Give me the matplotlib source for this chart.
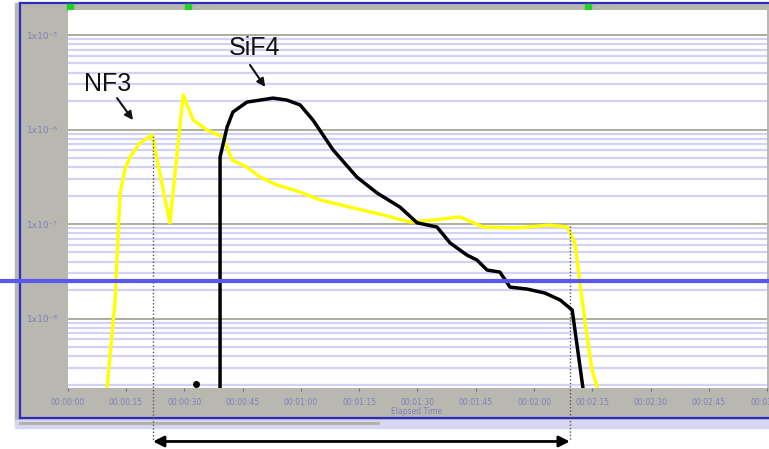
import numpy as np
import matplotlib.pyplot as plt
from matplotlib.patches import Rectangle
from matplotlib.lines import Line2D
from matplotlib.ticker import LogLocator, NullFormatter

# screen size of the original capture
W, H = 769, 449

def fx(x):
    return x / W

def fy(y):
    return 1 - y / H

# NF3 trace (yellow), elapsed seconds / partial pressure
nf3_t = [10.1, 12.2, 12.9, 13.5, 14.7, 16.0, 18.6, 21.7, 26.3, 29.7, 32.3, 35.8,
         40.0, 42.3, 46.1, 49.5, 53.9, 59.8, 64.9, 72.6, 81.1, 88.1, 94.0, 100.9,
         106.9, 115.6, 124.1, 128.5, 130.5, 131.8, 133.4, 134.9, 136.4]
nf3_p = [1.8e-9, 1.57e-8, 6.8e-8, 2.13e-7, 3.73e-7, 5.1e-7, 7.2e-7, 8.75e-7, 1.03e-7,
         2.32e-6, 1.26e-6, 9.9e-7, 8.3e-7, 4.75e-7, 4.0e-7, 3.14e-7, 2.59e-7, 2.18e-7,
         1.8e-7, 1.51e-7, 1.25e-7, 1.05e-7, 1.1e-7, 1.19e-7, 9.3e-8, 9.1e-8, 9.75e-8,
         9.3e-8, 6.3e-8, 2.38e-8, 7.5e-9, 2.85e-9, 1.8e-9]

# SiF4 trace (black)
sif4_t = [39.2, 39.2, 41.0, 42.5, 46.1, 52.8, 56.4, 59.8, 63.1, 68.3, 74.4, 79.6,
          85.5, 89.9, 95.0, 98.4, 102.7, 105.3, 107.9, 111.2, 113.8, 118.2, 122.8,
          126.7, 129.8, 132.6]
sif4_p = [1.8e-9, 5.1e-7, 1.06e-6, 1.53e-6, 1.95e-6, 2.15e-6, 2.05e-6, 1.82e-6,
          1.26e-6, 6.07e-7, 3.14e-7, 2.13e-7, 1.51e-7, 1.03e-7, 9.3e-8, 6.3e-8,
          4.7e-8, 4.16e-8, 3.26e-8, 3.1e-8, 2.15e-8, 2.05e-8, 1.86e-8, 1.57e-8,
          1.23e-8, 1.8e-9]

dot_t, dot_p = 33.0, 2.03e-9

x_ticks = [0, 15, 30, 45, 60, 75, 90, 105, 120, 135, 150, 165, 180]
x_labels = ['00:00:00', '00:00:15', '00:00:30', '00:00:45', '00:01:00', '00:01:15',
            '00:01:30', '00:01:45', '00:02:00', '00:02:15', '00:02:30', '00:02:45',
            '00:03:00']
y_ticks = [1e-8, 1e-7, 1e-6, 1e-5]
y_labels = ['1x10⁻⁸', '1x10⁻⁷', '1x10⁻⁶', '1x10⁻⁵']

# window span between the two dotted markers
span_t = [21.95, 129.2]
span_top = [8.6e-7, 9.5e-8]
span_low = 5.0e-10

fig = plt.figure(figsize=(7.69, 4.49), dpi=100)
fig.patch.set_facecolor('white')

panel = '#b9b8b0'
fig.add_artist(Rectangle((fx(15), fy(425)), fx(769) - fx(15), fy(3) - fy(425),
                         transform=fig.transFigure, color=panel, zorder=-2))
fig.add_artist(Rectangle((fx(15), fy(428)), fx(769) - fx(15), fy(420) - fy(428),
                         transform=fig.transFigure, color='#d6d6f2', zorder=-1))
fig.add_artist(Line2D([fx(20), fx(378)], [fy(423), fy(423)], transform=fig.transFigure,
                      color='#b0b0a6', lw=2, zorder=-1))
# blue window frame
for xs, ys in [([20, 769], [3, 3]), ([20, 20], [3, 418]), ([20, 769], [418, 418])]:
    fig.add_artist(Line2D([fx(v) for v in xs], [fy(v) for v in ys],
                          transform=fig.transFigure, color='#2c2cc0', lw=1.6, zorder=-1))
for gx in [70, 188, 588]:
    fig.add_artist(Rectangle((fx(gx - 3), fy(10)), fx(6), fy(4) - fy(10),
                             transform=fig.transFigure, color='#1fd41f', zorder=-1))

ax = fig.add_axes([fx(67.7), fy(388), fx(767.3) - fx(67.7), fy(10) - fy(388)])
ax.set_facecolor('white')
ax.set_yscale('log')
ax.set_xlim(0, 180)
ax.set_ylim(1.84e-9, 1.84e-5)
for s in ax.spines.values():
    s.set_visible(False)

ax.yaxis.set_minor_locator(LogLocator(base=10, subs=np.arange(2, 10)))
ax.yaxis.set_minor_formatter(NullFormatter())
ax.grid(which='minor', axis='y', color='#d2d2f6', lw=1.6)
ax.grid(which='major', axis='y', color='#a6a698', lw=1.3)
ax.set_axisbelow(True)

ax.set_xticks(x_ticks)
ax.set_xticklabels(x_labels)
ax.set_yticks(y_ticks)
ax.set_yticklabels(y_labels)
ax.tick_params(axis='x', length=2, width=0.8, color='#707070', pad=5,
               labelsize=5.5, labelcolor='#8080b8')
ax.tick_params(axis='y', which='both', length=0, pad=7, labelsize=6.5, labelcolor='#8080b8')

ax.plot(nf3_t, nf3_p, color='#ffff00', lw=2.4, zorder=3)
ax.plot(sif4_t, sif4_p, color='black', lw=2.5, zorder=4)
ax.plot([dot_t], [dot_p], 'o', color='black', ms=4, clip_on=False, zorder=5)

for t, top in zip(span_t, span_top):
    ax.plot([t, t], [top, span_low], color='#555555', lw=1, ls=(0, (1, 1.5)),
            clip_on=False, zorder=3)
ax.annotate('', xy=(span_t[1], span_low), xytext=(span_t[0], span_low),
            arrowprops=dict(arrowstyle='<|-|>', color='black', lw=2, mutation_scale=16,
                            shrinkA=0, shrinkB=0),
            annotation_clip=False)

ax.text(10.4, 3.0e-6, 'NF3', fontsize=18, family='Liberation Sans',
        ha='center', va='center', color='#111111')
ax.annotate('', xy=(16.8, 1.26e-6), xytext=(12.7, 2.15e-6),
            arrowprops=dict(arrowstyle='-|>', color='#111111', lw=1.5, mutation_scale=12,
                            shrinkA=0, shrinkB=0))
ax.text(48.2, 7.3e-6, 'SiF4', fontsize=18, family='Liberation Sans',
        ha='center', va='center', color='#111111')
ax.annotate('', xy=(50.8, 2.82e-6), xytext=(46.9, 4.82e-6),
            arrowprops=dict(arrowstyle='-|>', color='#111111', lw=1.5, mutation_scale=12,
                            shrinkA=0, shrinkB=0))

fig.text(fx(417), fy(411), 'Elapsed Time', fontsize=5.5, color='#8080b8',
         ha='center', va='center')

# thick blue cursor line across the whole window
fig.add_artist(Line2D([0, 1], [fy(281), fy(281)], transform=fig.transFigure,
                      color='#5858f0', lw=3, zorder=5))

plt.savefig('out.png', dpi=100)
